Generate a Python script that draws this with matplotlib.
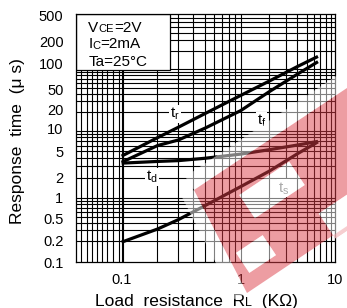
import numpy as np
import matplotlib
matplotlib.use('Agg')
import matplotlib.pyplot as plt
from matplotlib.patches import Polygon, Rectangle, PathPatch
from matplotlib.path import Path
from matplotlib.text import Annotation
from matplotlib.ticker import NullLocator

plt.rcParams['font.family'] = ['Liberation Sans', 'DejaVu Sans']

# ---------------- data ----------------
load_kohm = [0.1, 0.2, 0.3, 0.5, 1, 2, 4, 6.6]
t_r = [4.2, 7.5, 10.4, 17.3, 38.9, 63, 92.5, 125]
t_f = [3.4, 5.9, 7.0, 10.0, 19.4, 46, 75.8, 106]
t_d = [3.3, 3.5, 3.6, 3.9, 4.5, 5.2, 6.0, 6.7]
t_s = [0.19, 0.32, 0.47, 0.755, 1.46, 2.5, 4.56, 6.6]

x_ticks = [0.1, 1, 10]
x_tick_labels = ['0.1', '1', '10']
y_ticks = [0.1, 0.2, 0.5, 1, 2, 5, 10, 20, 50, 100, 200, 500]
y_tick_labels = ['0.1', '0.2', '0.5', '1', '2', '5', '10', '20', '50', '100', '200', '500']

# ---------------- figure geometry (pixels) ----------------
W, H = 347, 308
L_PX, R_PX, T_PX, B_PX = 76, 335, 14.3, 262

# piecewise-log scales of the scanned datasheet (labels not uniformly spaced)
XL = np.log10([0.01, 0.1, 1, 10, 100])
XP = np.array([2.4, 121.7, 241.0, 335.5, 430.0])
YL = np.log10([0.01] + y_ticks + [5000])
YP = -np.array([336, 264.3, 242.7, 220, 199, 179.3, 152.3, 129.3, 110.7, 90.7, 64, 41.7, 15.7, -49.6])


def xf(x):
    return np.interp(np.log10(np.clip(np.asarray(x, float), 1e-12, None)), XL, XP)


def xi(p):
    return 10 ** np.interp(np.asarray(p, float), XP, XL)


def yf(v):
    return np.interp(np.log10(np.clip(np.asarray(v, float), 1e-12, None)), YL, YP)


def yi(u):
    return 10 ** np.interp(np.asarray(u, float), YP, YL)


fig = plt.figure(figsize=(W / 100, H / 100), dpi=100)
ax = fig.add_axes([L_PX / W, (H - B_PX) / H, (R_PX - L_PX) / W, (B_PX - T_PX) / H])
ax.set_xscale('function', functions=(xf, xi))
ax.set_yscale('function', functions=(yf, yi))
ax.set_xlim(xi(L_PX), xi(R_PX))
ax.set_ylim(yi(-B_PX), yi(-T_PX))

ax.set_xticks(x_ticks, x_tick_labels)
ax.set_yticks(y_ticks, y_tick_labels)
ax.xaxis.set_minor_locator(NullLocator())
ax.yaxis.set_minor_locator(NullLocator())
ax.tick_params(axis='both', length=0, labelsize=10.5)
ax.tick_params(axis='y', pad=9)
ax.tick_params(axis='x', pad=8)
for sp in ax.spines.values():
    sp.set_linewidth(0.9)

# ---------------- grid (scanned log grid) ----------------
grid_kw = dict(color='black', lw=0.8, zorder=1)
vgrid = [0.046, 0.051, 0.056, 0.062, 0.068, 0.075, 0.085, 0.095, 0.1, 0.1025]
vgrid += [k / 10 for k in range(2, 10)] + [1] + list(range(2, 10))
for v in vgrid:
    ax.axvline(v, **grid_kw)

decades_px = [262, 200, 131.7, 70, 8]
for i in range(len(decades_px) - 1):
    p0, p1 = decades_px[i], decades_px[i + 1]
    h = p0 - p1
    for k in range(1, 10):
        p = p0 - h * np.log10(k)
        if T_PX < p < B_PX:
            ax.axhline(yi(-p), **grid_kw)

# ---------------- condition box ----------------
bx = (170 - L_PX) / (R_PX - L_PX)
by = (B_PX - 69.5) / (B_PX - T_PX)
ax.add_patch(Rectangle((0, by), bx, 1 - by, transform=ax.transAxes,
                       facecolor='white', edgecolor='black', lw=0.9, zorder=2))


def chain(parts, x, y):
    prev = None
    for txt, fs in parts:
        if prev is None:
            prev = ax.text(x, y, txt, transform=ax.transAxes, fontsize=fs,
                           va='bottom', ha='left', zorder=3)
        else:
            prev = ax.annotate(txt, xy=(1, 0), xycoords=prev, fontsize=fs,
                               va='bottom', ha='left', zorder=3)
    return prev


tx = (88.3 - L_PX) / (R_PX - L_PX)


def yb(p):
    return (B_PX - p) / (B_PX - T_PX)


chain([('V', 11), ('CE', 8), ('=2V', 11)], tx, yb(34.5))
chain([('I', 11), ('C', 8), ('=2mA', 11)], tx, yb(51.2))
chain([('Ta=25°C', 11)], tx, yb(68.6))

# ---------------- curves ----------------
line_kw = dict(color='black', lw=2.3, solid_capstyle='butt', zorder=3)
ax.plot(load_kohm, t_r, **line_kw)
ax.plot(load_kohm, t_f, **line_kw)
ax.plot(load_kohm, t_d, **line_kw)
ax.plot(load_kohm, t_s, **line_kw)

lab_kw = dict(ha='center', va='center', fontsize=11, zorder=2.5,
              bbox=dict(fc='white', ec='none', pad=0.5))
ax.text(0.28, 17, r'$\mathregular{t_r}$', **lab_kw)
ax.text(1.67, 13, r'$\mathregular{t_f}$', **lab_kw)
ax.text(0.18, 2.05, r'$\mathregular{t_d}$', **lab_kw)
ax.text(2.85, 1.37, r'$\mathregular{t_s}$', color='#555555', **lab_kw)

# ---------------- axis titles ----------------
fig.text(17.5 / W, 1 - 141 / H, 'Response  time  (μ s)', rotation=90,
         ha='center', va='center', fontsize=12.5)
xl = fig.text(95 / W, 1 - 309 / H, 'Load  resistance  R', ha='left', va='bottom', fontsize=12.5)
a1 = fig.add_artist(Annotation('L', xy=(1, 0), xycoords=xl, fontsize=9,
                               va='bottom', ha='left'))
fig.add_artist(Annotation('  (KΩ)', xy=(1, 0), xycoords=a1, fontsize=12.5,
                          va='bottom', ha='left'))

# ---------------- watermark overlay ----------------


def fp(pts):
    return [(x / W, 1 - y / H) for x, y in pts]


A = np.array([194.0, 190.0])
B = np.array([365.0, 76.0])
C = np.array([365.0, 214.0])
D = np.array([247.0, 293.0])
u = (B - A) / np.linalg.norm(B - A)
v = np.array([-u[1], u[0]])


def rrect(c, hu, hv):
    c = np.array(c, float)
    return [tuple(c + su * hu * u + sv * hv * v) for su, sv in ((-1, -1), (1, -1), (1, 1), (-1, 1))]


pink = '#dc3c46'
# light fringe outside the logo
fig.add_artist(Polygon(fp([A, B, B - 16 * v, A - 16 * v]), closed=True,
                       transform=fig.transFigure, fc='white', ec='none', alpha=0.5, zorder=10))
adir = (D - A) / np.linalg.norm(D - A)
n2 = np.array([-adir[1], adir[0]])
fig.add_artist(Polygon(fp([A, D, D + 14 * n2, A + 14 * n2]), closed=True,
                       transform=fig.transFigure, fc='white', ec='none', alpha=0.5, zorder=10))

outer = [tuple(A), tuple(B), tuple(C), tuple(D)]
holes = [rrect((272, 190), 30, 14), rrect((256, 254), 16, 12), rrect((342, 216), 18, 15)]
verts, codes = [], []


def add_ring(pts, reverse=False):
    pts = fp(pts)
    if reverse:
        pts = pts[::-1]
    verts.extend(pts + [pts[0]])
    codes.extend([Path.MOVETO] + [Path.LINETO] * (len(pts) - 1) + [Path.CLOSEPOLY])


add_ring(outer)
for hh in holes:
    add_ring(hh, reverse=True)
fig.add_artist(PathPatch(Path(verts, codes), transform=fig.transFigure,
                         fc=pink, ec='none', alpha=0.5, zorder=11))
for hh in holes:
    fig.add_artist(Polygon(fp(hh), closed=True, transform=fig.transFigure,
                           fc='white', ec='none', alpha=0.5, zorder=11))

fig.savefig('out.png', dpi=100)
